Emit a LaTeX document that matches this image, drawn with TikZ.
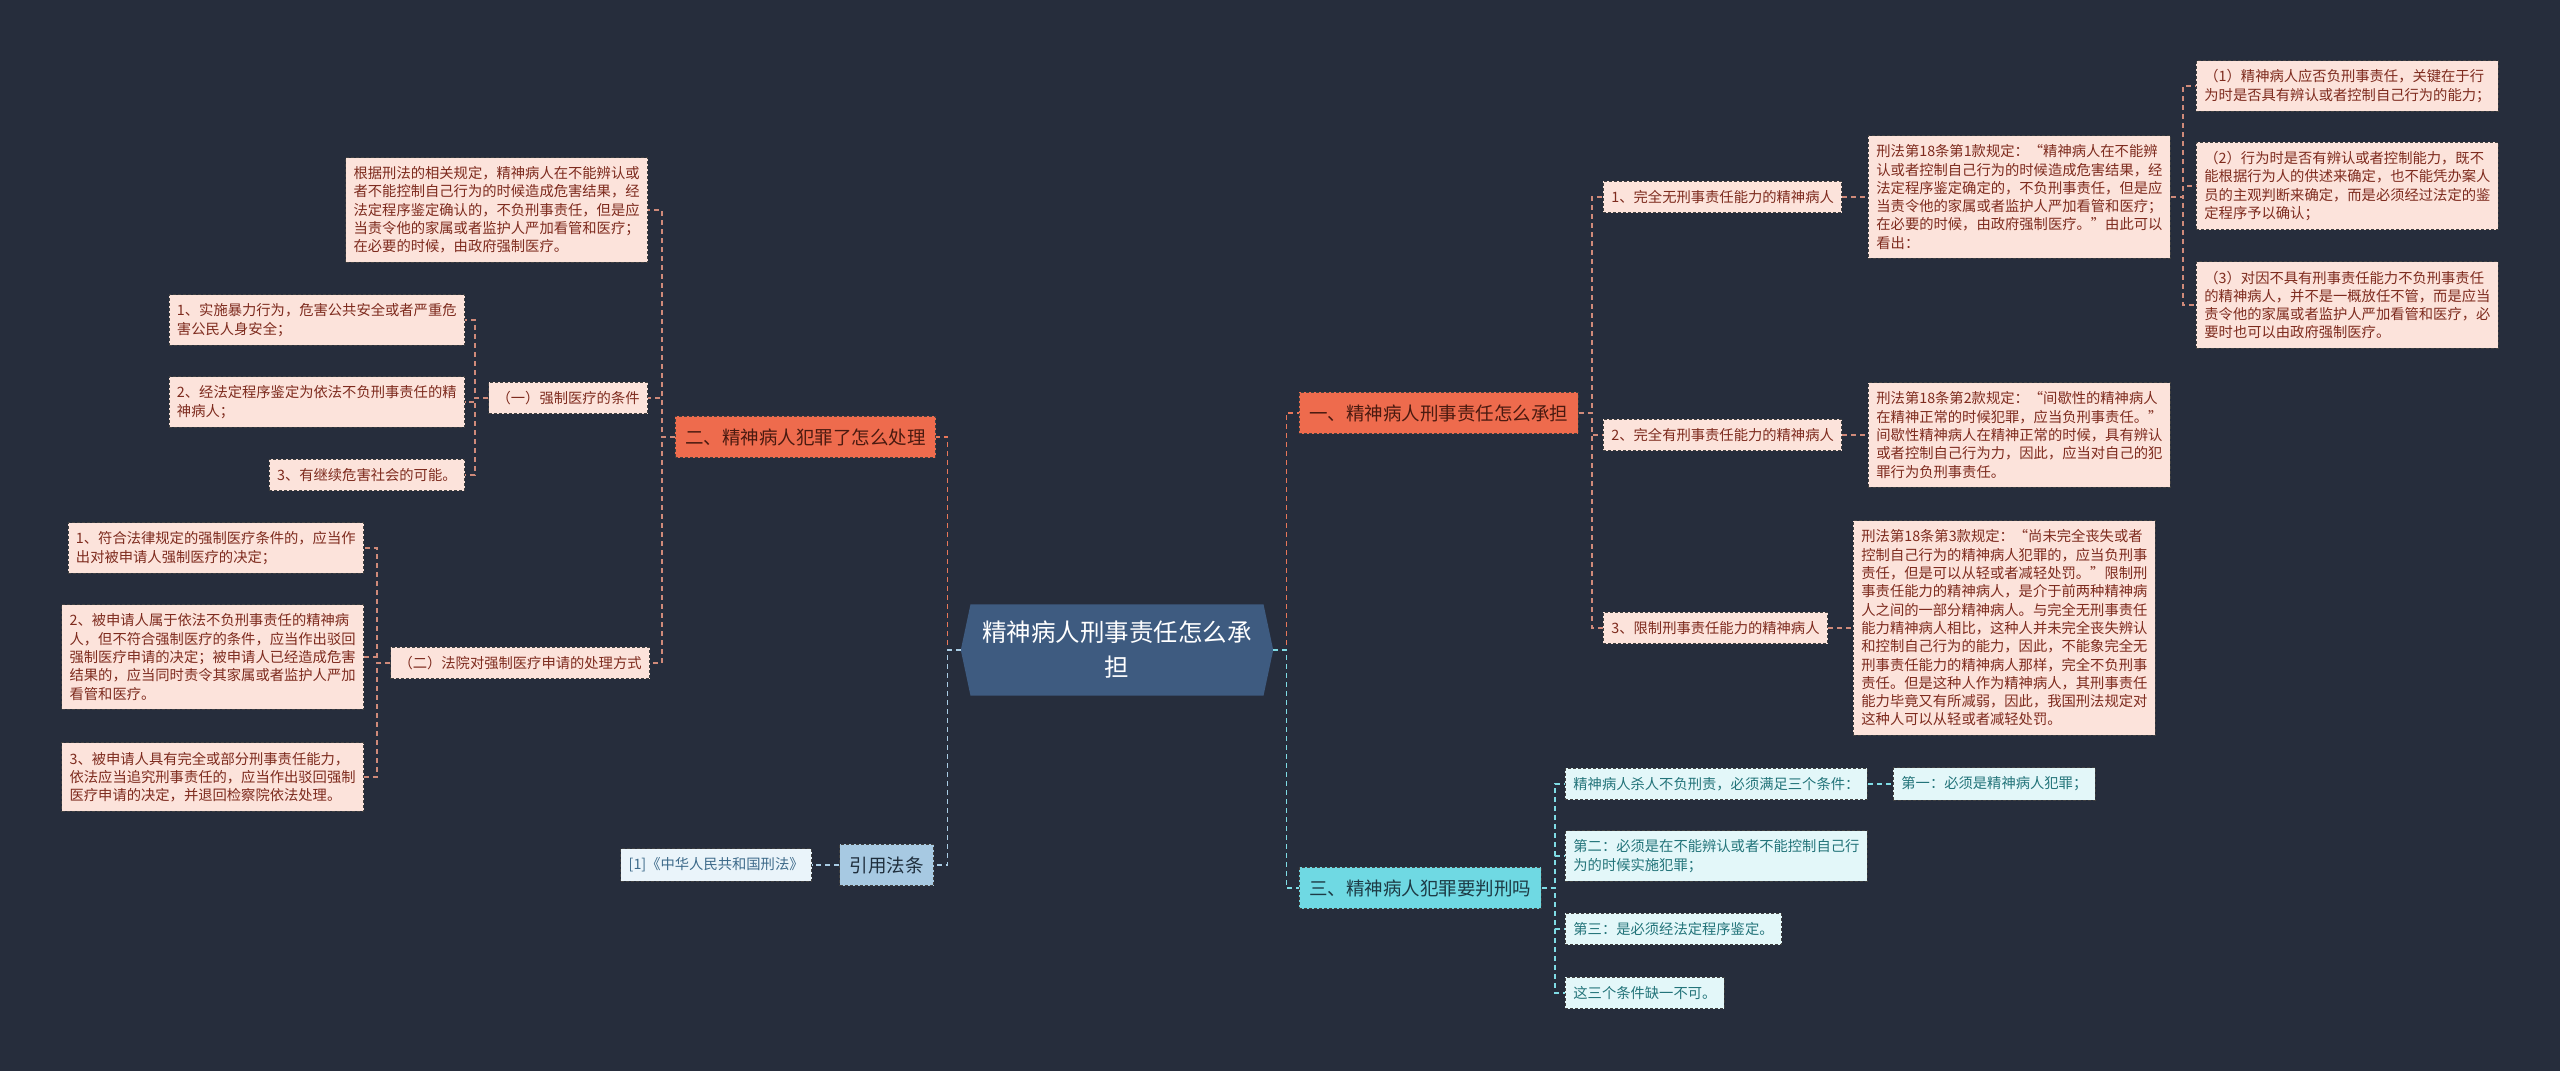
\documentclass[tikz,border=0pt]{standalone}
\usepackage{fontspec}
\setmainfont{Noto Sans CJK SC}
\usetikzlibrary{shapes.symbols}

\definecolor{bgcol}{HTML}{262D3C}
\definecolor{rootfill}{HTML}{3E5B80}
\definecolor{orangefill}{HTML}{EE6B4D}
\definecolor{orangetext}{HTML}{4A1A10}
\definecolor{pinkfill}{HTML}{FCE3DB}
\definecolor{pinktext}{HTML}{7E2B1E}
\definecolor{cyanfill}{HTML}{6FD9E3}
\definecolor{cyantext}{HTML}{1D3B45}
\definecolor{paleteal}{HTML}{E3F7F9}
\definecolor{tealtext}{HTML}{23747A}
\definecolor{bluefill}{HTML}{A7C9E2}
\definecolor{bluetext}{HTML}{1F2E3C}
\definecolor{paleblue}{HTML}{EAF4FA}
\definecolor{paletext}{HTML}{3D6A8A}
\definecolor{orangeline}{HTML}{E8775A}
\definecolor{pinkline}{HTML}{D08A7A}
\definecolor{cyanline}{HTML}{7FDCE5}
\definecolor{blueline}{HTML}{A9CCE4}

\tikzstyle{box} = [draw=black!75, dash pattern=on 3pt off 2pt, line width=0.8pt]
\tikzstyle{leaf} = [box, fill=pinkfill, text=pinktext, inner xsep=8pt, inner ysep=9pt, align=left, font=\fontsize{14.3}{18.3}\selectfont]
\tikzstyle{tealleaf} = [leaf, fill=paleteal, text=tealtext]
\tikzstyle{citeleaf} = [leaf, fill=paleblue, text=paletext]
\tikzstyle{topic} = [box, inner xsep=10pt, inner ysep=12pt, font=\fontsize{18.5}{22}\selectfont]
\tikzstyle{orangetopic} = [topic, fill=orangefill, text=orangetext]
\tikzstyle{cyantopic} = [topic, fill=cyanfill, text=cyantext]
\tikzstyle{bluetopic} = [topic, fill=bluefill, text=bluetext]
\tikzstyle{roottopic} = [signal, signal to=west and east, signal pointer angle=156, fill=rootfill, text=white, text width=270pt, align=center, inner xsep=11.5pt, inner ysep=17pt, font=\fontsize{24.5}{35}\selectfont]
\tikzstyle{link} = [line width=1.6pt, dash pattern=on 5pt off 4pt]

\begin{document}
\begin{tikzpicture}[x=1pt, y=-1pt]
\fill[bgcol] (0,0) rectangle (2560,1071);

\node[roottopic] (root) at (1117,650) {精神病人刑事责任怎么承\\担};

% left side
\node[orangetopic, anchor=east] (sec2) at (936,437) {二、精神病人犯罪了怎么处理};
\node[leaf, anchor=east] (note) at (648,210) {根据刑法的相关规定，精神病人在不能辨认或\\者不能控制自己行为的时候造成危害结果，经\\法定程序鉴定确认的，不负刑事责任，但是应\\当责令他的家属或者监护人严加看管和医疗；\\在必要的时候，由政府强制医疗。};
\node[leaf, anchor=east] (cond) at (648,398) {（一）强制医疗的条件};
\node[leaf, anchor=east] (cond1) at (465,320) {1、实施暴力行为，危害公共安全或者严重危\\害公民人身安全；};
\node[leaf, anchor=east] (cond2) at (465,402) {2、经法定程序鉴定为依法不负刑事责任的精\\神病人；};
\node[leaf, anchor=east] (cond3) at (465,475) {3、有继续危害社会的可能。};
\node[leaf, anchor=east] (proc) at (650,663) {（二）法院对强制医疗申请的处理方式};
\node[leaf, anchor=east] (proc1) at (364,548) {1、符合法律规定的强制医疗条件的，应当作\\出对被申请人强制医疗的决定；};
\node[leaf, anchor=east] (proc2) at (364,657) {2、被申请人属于依法不负刑事责任的精神病\\人，但不符合强制医疗的条件，应当作出驳回\\强制医疗申请的决定；被申请人已经造成危害\\结果的，应当同时责令其家属或者监护人严加\\看管和医疗。};
\node[leaf, anchor=east] (proc3) at (364,777) {3、被申请人具有完全或部分刑事责任能力，\\依法应当追究刑事责任的，应当作出驳回强制\\医疗申请的决定，并退回检察院依法处理。};
\node[bluetopic, anchor=east] (cite) at (934,865) {引用法条};
\node[citeleaf, anchor=east] (citeref) at (812,865) {[1]《中华人民共和国刑法》};

% right side
\node[orangetopic, anchor=west] (sec1) at (1299,413) {一、精神病人刑事责任怎么承担};
\node[leaf, anchor=west] (r1) at (1603,197) {1、完全无刑事责任能力的精神病人};
\node[leaf, anchor=west] (r1t) at (1868,197) {刑法第18条第1款规定：“精神病人在不能辨\\认或者控制自己行为的时候造成危害结果，经\\法定程序鉴定确定的，不负刑事责任，但是应\\当责令他的家属或者监护人严加看管和医疗；\\在必要的时候，由政府强制医疗。”由此可以\\看出：};
\node[leaf, anchor=west] (p1) at (2196,86) {（1）精神病人应否负刑事责任，关键在于行\\为时是否具有辨认或者控制自己行为的能力；};
\node[leaf, anchor=west] (p2) at (2196,186) {（2）行为时是否有辨认或者控制能力，既不\\能根据行为人的供述来确定，也不能凭办案人\\员的主观判断来确定，而是必须经过法定的鉴\\定程序予以确认；};
\node[leaf, anchor=west] (p3) at (2196,305) {（3）对因不具有刑事责任能力不负刑事责任\\的精神病人，并不是一概放任不管，而是应当\\责令他的家属或者监护人严加看管和医疗，必\\要时也可以由政府强制医疗。};
\node[leaf, anchor=west] (r2) at (1603,435) {2、完全有刑事责任能力的精神病人};
\node[leaf, anchor=west] (r2t) at (1868,435) {刑法第18条第2款规定：“间歇性的精神病人\\在精神正常的时候犯罪，应当负刑事责任。”\\间歇性精神病人在精神正常的时候，具有辨认\\或者控制自己行为力，因此，应当对自己的犯\\罪行为负刑事责任。};
\node[leaf, anchor=west] (r3) at (1603,628) {3、限制刑事责任能力的精神病人};
\node[leaf, anchor=west] (r3t) at (1853,628) {刑法第18条第3款规定：“尚未完全丧失或者\\控制自己行为的精神病人犯罪的，应当负刑事\\责任，但是可以从轻或者减轻处罚。”限制刑\\事责任能力的精神病人，是介于前两种精神病\\人之间的一部分精神病人。与完全无刑事责任\\能力精神病人相比，这种人并未完全丧失辨认\\和控制自己行为的能力，因此，不能象完全无\\刑事责任能力的精神病人那样，完全不负刑事\\责任。但是这种人作为精神病人，其刑事责任\\能力毕竟又有所减弱，因此，我国刑法规定对\\这种人可以从轻或者减轻处罚。};
\node[cyantopic, anchor=west] (sec3) at (1299,888) {三、精神病人犯罪要判刑吗};
\node[tealleaf, anchor=west] (c1) at (1565,784) {精神病人杀人不负刑责，必须满足三个条件：};
\node[tealleaf, anchor=west] (c1a) at (1893,784) {第一：必须是精神病人犯罪；};
\node[tealleaf, anchor=west] (c2) at (1565,856) {第二：必须是在不能辨认或者不能控制自己行\\为的时候实施犯罪；};
\node[tealleaf, anchor=west] (c3) at (1565,929) {第三：是必须经法定程序鉴定。};
\node[tealleaf, anchor=west] (c4) at (1565,993) {这三个条件缺一不可。};

% connectors
\draw[link, orangeline] (root.west) -- ++(-13,0) |- (sec2.east);
\draw[link, blueline] (root.west) -- ++(-13,0) |- (cite.east);
\draw[link, orangeline] (root.east) -- ++(13,0) |- (sec1.west);
\draw[link, cyanline] (root.east) -- ++(13,0) |- (sec3.west);
\foreach \n in {note,cond,proc}
  \draw[link, pinkline] (sec2.west) -- ++(-13,0) |- (\n.east);
\foreach \n in {cond1,cond2,cond3}
  \draw[link, pinkline] (cond.west) -- ++(-13,0) |- (\n.east);
\foreach \n in {proc1,proc2,proc3}
  \draw[link, pinkline] (proc.west) -- ++(-13,0) |- (\n.east);
\draw[link, blueline] (cite.west) -- (citeref.east);
\foreach \n in {r1,r2,r3}
  \draw[link, pinkline] (sec1.east) -- ++(13,0) |- (\n.west);
\draw[link, pinkline] (r1.east) -- (r1t.west);
\draw[link, pinkline] (r2.east) -- (r2t.west);
\draw[link, pinkline] (r3.east) -- (r3t.west);
\foreach \n in {p1,p2,p3}
  \draw[link, pinkline] (r1t.east) -- ++(12,0) |- (\n.west);
\foreach \n in {c1,c2,c3,c4}
  \draw[link, cyanline] (sec3.east) -- ++(13,0) |- (\n.west);
\draw[link, cyanline] (c1.east) -- (c1a.west);
\end{tikzpicture}
\end{document}
